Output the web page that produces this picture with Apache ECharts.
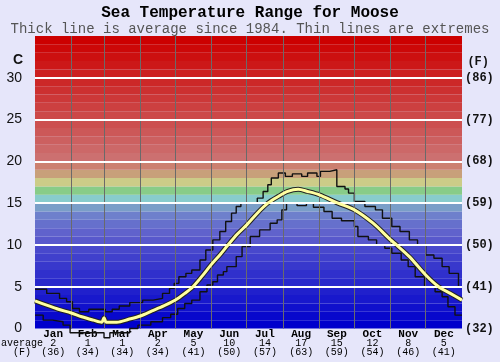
<!DOCTYPE html>
<html>
<head>
<meta charset="utf-8">
<script src="https://cdn.jsdelivr.net/npm/echarts@6/dist/echarts.min.js"></script>
<style>
html,body{margin:0;padding:0;background:#e6e6fa;}
#c{width:500px;height:362px;}
</style>
</head>
<body>
<div id="c"></div>
<script>
// ---- data ----
const monthNames = ['Jan','Feb','Mar','Apr','May','Jun','Jul','Aug','Sep','Oct','Nov','Dec'];
const monthStartDays = [0,31,59,90,120,151,181,212,243,273,304,334];
const monthMidDays = [15.5,45,74.5,105,135.5,166,196.5,227.5,258,288.5,319,349.5];
const monthAvgC = [2,1,1,2,5,10,14,17,15,12,8,5];
const monthAvgF = [36,34,34,34,41,50,57,63,59,54,46,41];
const yTicksC = [0,5,10,15,20,25,30];

// [day of year, °C]
const avgLine = [[0,3.3],[10,2.8],[20,2.3],[31,1.85],[40,1.4],[50,1.0],[57,0.75],[59,1.3],[61,0.75],[70,0.75],[80,1.1],[90,1.5],[100,2.1],[110,2.7],[120,3.4],[128,4.2],[135,5.0],[143,6.3],[151,7.7],[158,8.8],[165,10.0],[173,11.3],[181,12.4],[190,13.8],[199,15.0],[208,15.8],[216,16.4],[225,16.65],[233,16.4],[243,16.0],[259,15.0],[273,14.2],[289,12.6],[304,10.6],[309,10.0],[320,8.6],[334,6.4],[345,5.0],[355,4.2],[365,3.4]];
const maxLine = [[0,4.7],[10,4.2],[21,3.6],[27,3.2],[32,2.4],[38,2.0],[46,2.3],[60,2.0],[66,2.3],[72,2.7],[81,3.1],[92,3.4],[101,3.6],[109,4.2],[115,4.8],[119,5.4],[123,6.2],[129,6.6],[134,7.0],[141,8.2],[146,9.4],[152,10.6],[158,11.6],[163,12.8],[168,13.8],[172,14.6],[176,15.0],[190,15.6],[195,16.4],[199,17.2],[202,18.0],[208,18.6],[214,18.2],[220,18.5],[228,18.2],[233,18.6],[241,18.2],[244,18.8],[252,19.0],[258,17.0],[265,16.7],[268,16.2],[273,15.2],[282,14.6],[291,14.2],[297,13.2],[305,12.2],[312,11.6],[320,10.6],[327,10.0],[334,8.8],[341,8.4],[348,7.4],[354,6.6],[362,5.0],[365,5.0]];
const minLine = [[0,1.6],[7,1.0],[15,0.8],[24,0.4],[30,-0.5],[59,-1.1],[64,-0.5],[81,0.0],[88,0.4],[99,0.8],[109,1.3],[116,1.7],[122,2.4],[128,3.0],[134,3.4],[141,4.4],[147,5.2],[152,5.6],[156,6.4],[161,6.8],[164,7.4],[172,8.6],[177,9.8],[184,11.0],[192,11.8],[201,12.6],[207,13.0],[211,14.2],[215,15.0],[224,14.7],[232,15.0],[238,14.5],[247,14.0],[254,13.2],[262,12.9],[273,12.2],[276,11.0],[285,10.6],[292,10.0],[299,9.6],[305,9.0],[313,8.2],[319,7.4],[325,6.2],[333,5.0],[342,4.4],[348,3.8],[353,2.6],[359,1.6],[365,1.6]];

// background colour bands, one per °C from 0 up to 35
const bandColors = ['#0000cc','#0808cc','#1010cc','#1818cc','#2020cc','#2828cc','#3030cc','#3838cc','#4040cc','#4848cc',
 '#5858cc','#6062cc','#6670cc','#6e80cc','#7a9ec8','#88cccc','#88cc88','#cccc88','#c8a07a','#cc8070',
 '#cc7070','#cc6868','#cc6060','#cc5858','#cc5050','#cc4848','#cc4040','#cc3838','#cc3030','#cc2828',
 '#cc2020','#cc1818','#cc1010','#cc0808','#cc0000'];

const chart = echarts.init(document.getElementById('c'), null, {renderer:'canvas'});
const mono = 'Liberation Mono, DejaVu Sans Mono, monospace';

const bands = bandColors.map((c,i)=>[{yAxis:i, itemStyle:{color:c}},{yAxis:i+1}]);

chart.setOption({
  backgroundColor:'#e6e6fa',
  animation:false,
  title:[
    {text:'Sea Temperature Range for Moose', left:'center', top:5, padding:0,
     textStyle:{fontFamily:mono, fontWeight:'bold', fontSize:16, lineHeight:16, color:'#000'}},
    {text:'Thick line is average since 1984. Thin lines are extremes', left:'center', top:22, padding:0,
     textStyle:{fontFamily:mono, fontWeight:'normal', fontSize:14, lineHeight:14, color:'#555'}}
  ],
  grid:{left:35, right:38, top:36, bottom:33.5},
  xAxis:{
    type:'value', min:0, max:365,
    axisLine:{show:false}, axisTick:{show:false}, splitLine:{show:false},
    axisLabel:{
      customValues: monthMidDays,
      margin:1,
      formatter:function(v){
        const i = monthMidDays.indexOf(v);
        if(i<0) return '';
        return '{m|'+monthNames[i]+'}\n{v|'+monthAvgC[i]+'}\n{v|('+monthAvgF[i]+')}';
      },
      rich:{
        m:{fontFamily:mono, fontWeight:'bold', fontSize:11, lineHeight:9, color:'#000'},
        v:{fontFamily:mono, fontSize:10, lineHeight:9, color:'#000'}
      }
    }
  },
  yAxis:[
    {type:'value', min:0, max:35, interval:5, position:'left',
     axisLine:{show:false}, axisTick:{show:false}, splitLine:{show:false},
     axisLabel:{margin:13, fontFamily:'Liberation Sans, Arial, sans-serif', fontSize:14, color:'#111',
       formatter:function(v){return yTicksC.indexOf(v)>=0 ? String(v) : '';}}},
    {type:'value', min:0, max:35, interval:5, position:'right',
     axisLine:{show:false}, axisTick:{show:false}, splitLine:{show:false},
     axisLabel:{margin:3, fontFamily:mono, fontWeight:'bold', fontSize:12, color:'#111', padding:[3,0,0,0],
       formatter:function(v){return yTicksC.indexOf(v)>=0 ? '('+Math.round(v*9/5+32)+')' : '';}}}
  ],
  graphic:[
    {type:'text', left:13, top:53, style:{text:'C', font:'bold 14px Liberation Sans, Arial, sans-serif', fill:'#111'}},
    {type:'text', right:11, top:56, style:{text:'(F)', font:'bold 12px '+mono, fill:'#111'}},
    {type:'text', left:1, top:338, style:{text:'average', font:'10px '+mono, fill:'#000'}},
    {type:'text', left:13, top:347, style:{text:'(F)', font:'10px '+mono, fill:'#000'}}
  ],
  series:[
    {type:'line', data:[], z:1, silent:true,
     markArea:{silent:true, data:bands}},
    {type:'line', data:[], z:2, silent:true,
     markLine:{silent:true, symbol:'none', label:{show:false}, animation:false,
       data: monthStartDays.slice(1).map(d=>({xAxis:d, lineStyle:{color:'#6a6a6a', width:1, type:'solid'}}))
         .concat(yTicksC.slice(1).map(v=>({yAxis:v, lineStyle:{color:'#ffffff', width:2, type:'solid'}})))}},
    {type:'line', name:'max', data:maxLine, step:'end', showSymbol:false, z:3, clip:false,
     lineStyle:{color:'#111', width:1.4}},
    {type:'line', name:'min', data:minLine, step:'end', showSymbol:false, z:3, clip:false,
     lineStyle:{color:'#111', width:1.4}},
    {type:'line', name:'avgOutline', data:avgLine, smooth:0.3, showSymbol:false, z:4,
     lineStyle:{color:'#222', width:5}},
    {type:'line', name:'avg', data:avgLine, smooth:0.3, showSymbol:false, z:5,
     lineStyle:{color:'#ffffa0', width:3}}
  ]
});
</script>
</body>
</html>
